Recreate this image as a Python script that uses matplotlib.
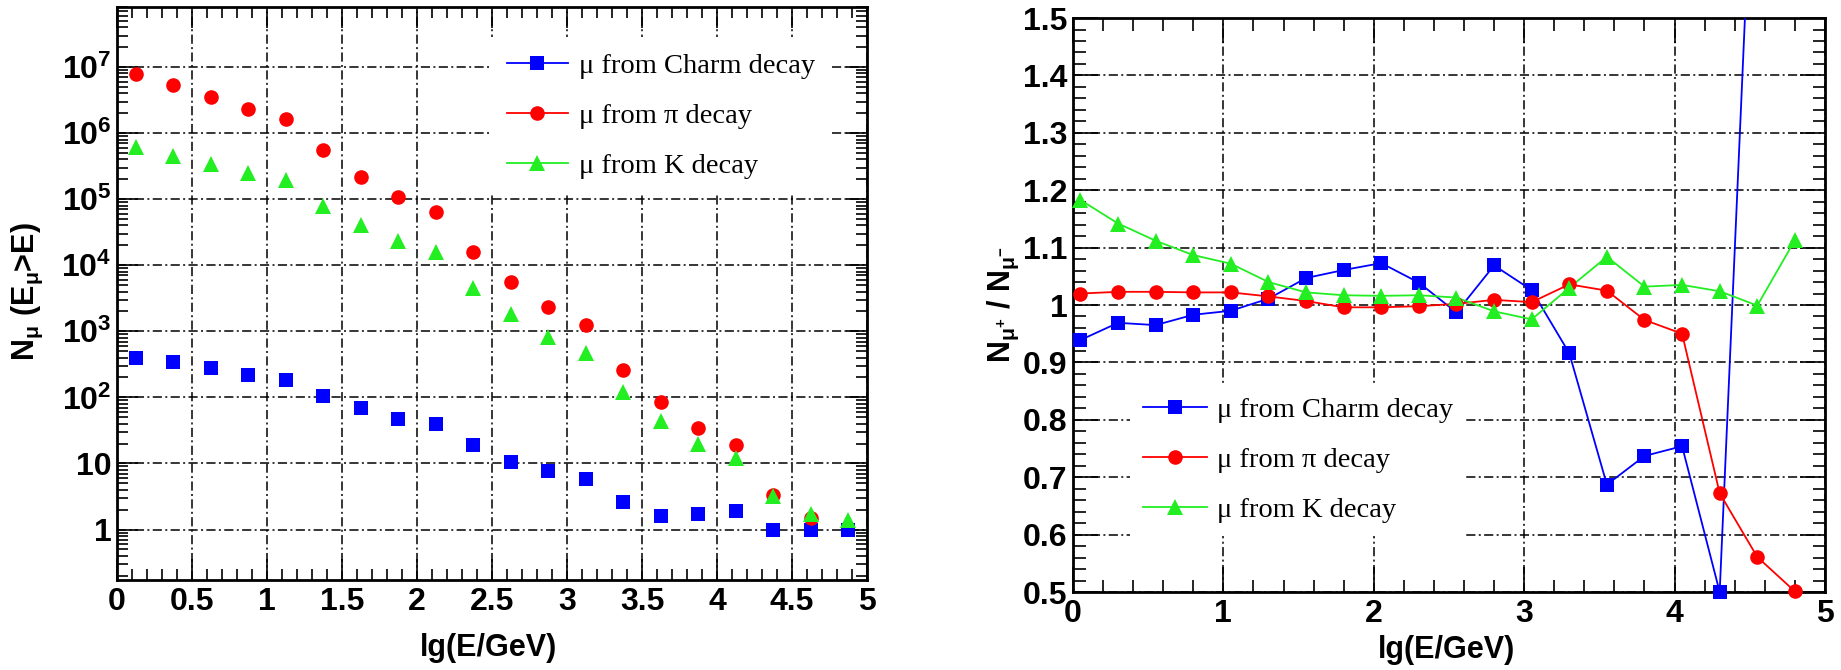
import matplotlib
matplotlib.use('Agg')
import matplotlib.pyplot as plt
from matplotlib.ticker import MultipleLocator, LogLocator, NullFormatter, FuncFormatter
from matplotlib.lines import Line2D
import numpy as np

# ---- data: left panel, integral muon number vs lg(E/GeV) ----
x_left = [0.125, 0.375, 0.625, 0.875, 1.125, 1.375, 1.625, 1.875, 2.125, 2.375,
          2.625, 2.875, 3.125, 3.375, 3.625, 3.875, 4.125, 4.375, 4.625, 4.875]
charm_left = [400, 340, 277, 215, 182, 105, 70, 47, 39, 19,
              10.6, 7.8, 5.8, 2.6, 1.6, 1.7, 1.9, 1, 1, 1]
# last pi bin is not visible in the picture
pi_left = [7.8e6, 5.4e6, 3.5e6, 2.3e6, 1.65e6, 5.6e5, 2.2e5, 1.07e5, 6.3e4, 1.6e4,
           5.5e3, 2.3e3, 1.25e3, 260, 84, 34, 19, 3.3, 1.5]
k_left = [6.1e5, 4.5e5, 3.4e5, 2.5e5, 1.96e5, 8.0e4, 4.1e4, 2.3e4, 1.56e4, 4.6e3,
          1.8e3, 810, 475, 120, 44, 20, 12, 3.2, 1.7, 1.4]

# ---- data: right panel, charge ratio N(mu+)/N(mu-) ----
x_right = [0.05, 0.30, 0.55, 0.80, 1.05, 1.30, 1.55, 1.80, 2.05, 2.30,
           2.55, 2.80, 3.05, 3.30, 3.55, 3.80, 4.05, 4.30, 4.55, 4.80]
charm_right = [0.939, 0.969, 0.965, 0.983, 0.990, 1.011, 1.047, 1.061, 1.073, 1.039,
               0.987, 1.069, 1.026, 0.916, 0.687, 0.737, 0.754, 0.500, 1.99]
pi_right = [1.020, 1.023, 1.023, 1.022, 1.022, 1.015, 1.007, 0.996, 0.996, 0.998,
            1.002, 1.009, 1.005, 1.036, 1.025, 0.974, 0.950, 0.672, 0.561, 0.501]
k_right = [1.183, 1.142, 1.112, 1.087, 1.072, 1.040, 1.022, 1.017, 1.016, 1.017,
           1.013, 0.989, 0.975, 1.030, 1.084, 1.032, 1.035, 1.024, 0.999, 1.113]

labels = ['\u03bc from Charm decay', '\u03bc from \u03c0 decay', '\u03bc from K decay']
colors = ['#0000ff', '#ff0000', '#22ee22']
markers = ['s', 'o', '^']
msizes = [10, 10.5, 11]

left_yticks = [1, 10, 1e2, 1e3, 1e4, 1e5, 1e6, 1e7]
left_yticklabels = ['1', '10', '$10^{2}$', '$10^{3}$', '$10^{4}$', '$10^{5}$', '$10^{6}$', '$10^{7}$']

plt.rcParams.update({
    'font.family': 'Liberation Sans',
    'font.weight': 'bold',
    'mathtext.fontset': 'custom',
    'mathtext.rm': 'Liberation Sans:bold',
    'mathtext.it': 'Liberation Sans:bold',
    'mathtext.bf': 'Liberation Sans:bold',
    'mathtext.sf': 'Liberation Sans:bold',
    'mathtext.default': 'rm',
})

# ROOT-like dash-dot grid
grid_ls = (0, (6.0, 2.2, 1.3, 2.2))
fmt_g = FuncFormatter(lambda v, p: '%g' % round(v, 3))

fig = plt.figure(figsize=(18.41, 6.70), dpi=100)
ax1 = fig.add_axes([0.06355, 0.1343, 0.4074, 0.8552])
ax2 = fig.add_axes([0.5828, 0.1164, 0.4085, 0.8567])


def style_axes(ax, major_len, minor_len):
    ax.tick_params(which='both', direction='in', top=True, right=True,
                   width=1.2, labelsize=23, colors='black')
    ax.tick_params(which='major', length=major_len)
    ax.tick_params(which='minor', length=minor_len)
    ax.tick_params(axis='x', pad=5)
    ax.tick_params(axis='y', pad=4)
    for sp in ax.spines.values():
        sp.set_linewidth(2.0)
    ax.grid(True, which='major', color='black', linewidth=1.1, linestyle=grid_ls)


# ---------------- left panel ----------------
ax1.set_yscale('log')
for yv, c, m, ms in zip([charm_left, pi_left, k_left], colors, markers, msizes):
    ax1.plot(x_left[:len(yv)], yv, linestyle='none', marker=m, color=c, markersize=ms,
             markeredgewidth=0, zorder=3)
ax1.set_xlim(0, 5)
ax1.set_ylim(0.172, 8.1e7)
ax1.xaxis.set_major_locator(MultipleLocator(0.5))
ax1.xaxis.set_minor_locator(MultipleLocator(0.1))
ax1.xaxis.set_major_formatter(fmt_g)
ax1.set_yticks(left_yticks, left_yticklabels)
ax1.yaxis.set_minor_locator(LogLocator(base=10, subs=np.arange(2, 10), numticks=20))
ax1.yaxis.set_minor_formatter(NullFormatter())
style_axes(ax1, 15, 8)

handles = [Line2D([], [], color=c, marker=m, markersize=ms, markeredgewidth=0, linewidth=1.3)
           for c, m, ms in zip(colors, markers, msizes)]
leg_font = {'family': 'Liberation Serif', 'size': 20.5, 'weight': 'normal'}
ax1.legend(handles, labels, loc='upper left', bbox_to_anchor=(0.4987, 0.9476),
           borderaxespad=0, frameon=True, fancybox=False, edgecolor='none',
           facecolor='white', framealpha=1, prop=leg_font, handlelength=2.14,
           handletextpad=0.39, labelspacing=0.84, borderpad=0.56)

# ---------------- right panel ----------------
for yv, c, m, ms in zip([charm_right, pi_right, k_right], colors, markers, msizes):
    xs = np.array(x_right[:len(yv)])
    ys = np.array(yv)
    ax2.plot(xs, ys, color=c, linewidth=1.3, zorder=3)
    inside = (ys >= 0.5) & (ys <= 1.5)
    ax2.plot(xs[inside], ys[inside], linestyle='none', marker=m, color=c,
             markersize=ms, markeredgewidth=0, clip_on=False, zorder=4)
ax2.set_xlim(0, 5)
ax2.set_ylim(0.5, 1.5)
ax2.xaxis.set_major_locator(MultipleLocator(1))
ax2.xaxis.set_minor_locator(MultipleLocator(0.2))
ax2.yaxis.set_major_locator(MultipleLocator(0.1))
ax2.yaxis.set_minor_locator(MultipleLocator(0.02))
ax2.xaxis.set_major_formatter(fmt_g)
ax2.yaxis.set_major_formatter(fmt_g)
style_axes(ax2, 18, 9)

ax2.legend(handles, labels, loc='upper left', bbox_to_anchor=(0.0758, 0.3624),
           borderaxespad=0, frameon=True, fancybox=False, edgecolor='none',
           facecolor='white', framealpha=1, prop=leg_font, handlelength=2.25,
           handletextpad=0.35, labelspacing=0.84, borderpad=0.46)

# ---------------- axis titles ----------------
fig.text(488 / 1841, 1 - 648 / 670, 'lg(E/GeV)', ha='center', va='center',
         fontsize=22, fontweight='bold')
fig.text(1447 / 1841, 1 - 650 / 670, 'lg(E/GeV)', ha='center', va='center',
         fontsize=22, fontweight='bold')
fig.text(27 / 1841, 1 - 292 / 670, r'$N_{\mu}\ (E_{\mu}$>E)', rotation=90,
         ha='center', va='center', fontsize=22, fontweight='bold')
fig.text(1003 / 1841, 1 - 305 / 670, r'$N_{\mu^{+}}$ / $N_{\mu^{-}}$', rotation=90,
         ha='center', va='center', fontsize=22, fontweight='bold')

fig.savefig('out.png', dpi=100)
